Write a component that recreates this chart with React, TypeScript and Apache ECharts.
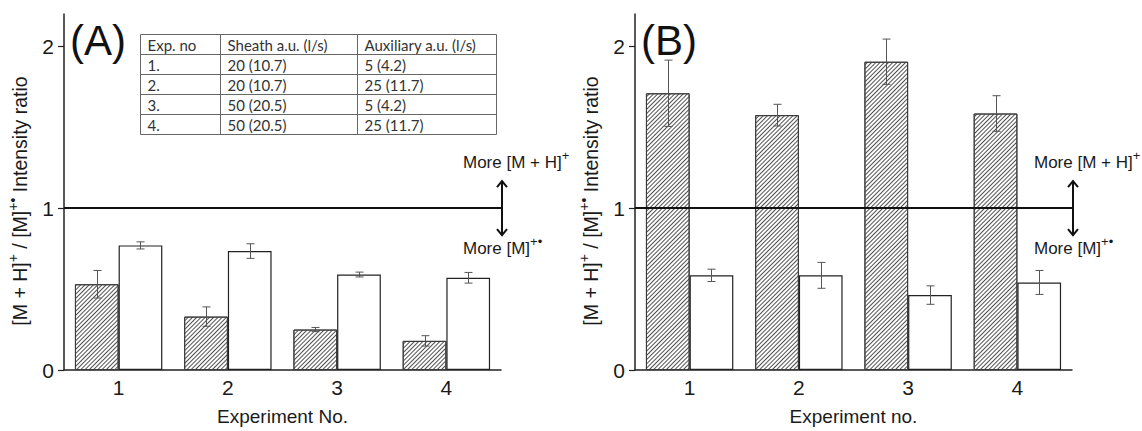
import React, { useEffect, useRef } from 'react';
import * as echarts from 'echarts';

const categories = ['1', '2', '3', '4'];
const yTicks = [0, 1, 2];
const panelAHatched = [0.53, 0.33, 0.25, 0.18];
const panelAHatchedErr = [0.085, 0.06, 0.013, 0.032];
const panelAOpen = [0.77, 0.735, 0.59, 0.57];
const panelAOpenErr = [0.022, 0.045, 0.015, 0.033];
const panelBHatched = [1.71, 1.575, 1.905, 1.585];
const panelBHatchedErr = [0.205, 0.067, 0.14, 0.11];
const panelBOpen = [0.585, 0.585, 0.463, 0.541];
const panelBOpenErr = [0.038, 0.08, 0.057, 0.074];
const tableHeader = ['Exp. no', 'Sheath a.u. (l/s)', 'Auxiliary a.u. (l/s)'];
const tableExp = ['1.', '2.', '3.', '4.'];
const tableSheath = ['20 (10.7)', '20 (10.7)', '50 (20.5)', '50 (20.5)'];
const tableAux = ['5 (4.2)', '25 (11.7)', '5 (4.2)', '25 (11.7)'];
const panelLabels = ['(A)', '(B)'];
const xNames = ['Experiment No.', 'Experiment no.'];

const FONT = '"Liberation Sans", Arial, sans-serif';
const TABLE_FONT = 'Lato, "Open Sans", sans-serif';
const GRID_TOP = 14;
const GRID_H = 356;
const GRID_W = 437;
const GRID_LEFTS = [64, 635];
const Y_MAX = 2.2;

const yPix = (v: number) => GRID_TOP + GRID_H * (1 - v / Y_MAX);

const renderErr = (params: any, api: any) => {
  const i = api.value(0);
  const v = api.value(1);
  const e = api.value(2);
  const side = api.value(3);
  const band = api.size([1, 0])[0];
  const base = api.coord([i, v]);
  const x = Math.round(base[0] + side * band * 0.2) + 0.5;
  const yT = api.coord([i, v + e])[1];
  const yB = api.coord([i, v - e])[1];
  const cap = 4;
  const style = { stroke: '#555', lineWidth: 1 };
  return {
    type: 'group',
    children: [
      { type: 'line', shape: { x1: x, y1: yT, x2: x, y2: yB }, style },
      { type: 'line', shape: { x1: x - cap, y1: yT, x2: x + cap, y2: yT }, style },
      { type: 'line', shape: { x1: x - cap, y1: yB, x2: x + cap, y2: yB }, style },
    ],
  };
};

const hatchDecal = {
  symbol: 'rect',
  symbolSize: 1,
  symbolKeepAspect: false,
  color: '#505050',
  backgroundColor: '#ffffff',
  dashArrayX: [1, 0],
  dashArrayY: [1, 1.7],
  rotation: -Math.PI / 4,
};

const richName = {
  n: { fontSize: 19.5, lineHeight: 28, fontFamily: FONT, color: '#1a1a1a' },
  s: { fontSize: 14, lineHeight: 13, verticalAlign: 'top', fontFamily: FONT, color: '#1a1a1a' },
  g: { width: 18, lineHeight: 28, fontSize: 19.5 },
};

const supRich = {
  n: { fontSize: 17, lineHeight: 26, fontFamily: FONT, fill: '#1a1a1a' },
  s: { fontSize: 13, lineHeight: 11, verticalAlign: 'top', fontFamily: FONT, fill: '#1a1a1a' },
};

function buildPanel(p: number, hatched: number[], hatchedErr: number[], open: number[], openErr: number[]) {
  const errData: number[][] = [];
  categories.forEach((_, i) => {
    errData.push([i, hatched[i], hatchedErr[i], -1]);
    errData.push([i, open[i], openErr[i], 1]);
  });
  return [
    {
      type: 'bar',
      xAxisIndex: p,
      yAxisIndex: p,
      data: hatched,
      barWidth: '40%',
      barGap: '0%',
      itemStyle: { color: '#ffffff', borderColor: '#3a3a3a', borderWidth: 1, decal: hatchDecal },
      silent: true,
    },
    {
      type: 'bar',
      xAxisIndex: p,
      yAxisIndex: p,
      data: open,
      barWidth: '40%',
      barGap: '0%',
      itemStyle: { color: '#ffffff', borderColor: '#222', borderWidth: 1.2 },
      silent: true,
      markLine: {
        silent: true,
        symbol: ['none', 'none'],
        label: { show: false },
        lineStyle: { color: '#111', width: 2, type: 'solid' },
        data: [{ yAxis: 1 }],
      },
    },
    {
      type: 'custom',
      xAxisIndex: p,
      yAxisIndex: p,
      data: errData,
      encode: { x: 0, y: 1 },
      renderItem: renderErr,
      z: 5,
      silent: true,
    },
  ];
}

function buildGraphics() {
  const g: any[] = [];
  const yLine = yPix(1);
  GRID_LEFTS.forEach((left, p) => {
    const ax = left + GRID_W + 1;
    const top = yLine - 27;
    const bot = yLine + 27;
    const st = { stroke: '#111', lineWidth: 2, fill: null };
    g.push({ type: 'line', shape: { x1: ax, y1: top, x2: ax, y2: bot }, style: st, z: 10 });
    g.push({ type: 'polyline', shape: { points: [[ax - 5, top + 6], [ax, top], [ax + 5, top + 6]] }, style: st, z: 10 });
    g.push({ type: 'polyline', shape: { points: [[ax - 5, bot - 6], [ax, bot], [ax + 5, bot - 6]] }, style: st, z: 10 });
    g.push({
      type: 'text',
      x: ax - 39,
      y: yLine - 46,
      style: { text: '{n|More [M + H]}{s|+}', rich: supRich, verticalAlign: 'middle', align: 'left' },
      z: 10,
    });
    g.push({
      type: 'text',
      x: ax - 39,
      y: yLine + 40,
      style: { text: '{n|More [M]}{s|+•}', rich: supRich, verticalAlign: 'middle', align: 'left' },
      z: 10,
    });
    g.push({
      type: 'text',
      x: left + 6,
      y: 40,
      style: { text: panelLabels[p], fontSize: 42, fontFamily: FONT, fill: '#111', verticalAlign: 'middle', align: 'left' },
      z: 10,
    });
  });

  // table in panel A
  const tTop = 34.5;
  const rowH = 20;
  const cols = [140.5, 220.5, 357.5, 496.5];
  const nRows = tableExp.length + 1;
  const tst = { stroke: '#666', lineWidth: 1, fill: null };
  g.push({ type: 'rect', shape: { x: cols[0], y: tTop, width: cols[3] - cols[0], height: rowH * nRows }, style: { stroke: '#666', lineWidth: 1, fill: '#fff' }, z: 8 });
  for (let r = 1; r < nRows; r++) {
    g.push({ type: 'line', shape: { x1: cols[0], y1: tTop + r * rowH, x2: cols[3], y2: tTop + r * rowH }, style: tst, z: 9 });
  }
  [cols[1], cols[2]].forEach((cx) => {
    g.push({ type: 'line', shape: { x1: cx, y1: tTop, x2: cx, y2: tTop + rowH * nRows }, style: tst, z: 9 });
  });
  const rows = [tableHeader, ...tableExp.map((e, i) => [e, tableSheath[i], tableAux[i]])];
  rows.forEach((row, r) => {
    row.forEach((txt, c) => {
      g.push({
        type: 'text',
        x: cols[c] + 7,
        y: tTop + r * rowH + rowH / 2 + 0.5,
        style: { text: txt, fontSize: 15, fontFamily: TABLE_FONT, fill: '#333', verticalAlign: 'middle', align: 'left' },
        z: 10,
      });
    });
  });
  return g;
}

export default function App() {
  const ref = useRef<HTMLDivElement>(null);
  useEffect(() => {
    if (!ref.current) return;
    const chart = echarts.init(ref.current, undefined, { renderer: 'svg' });
    const grids = GRID_LEFTS.map((left) => ({ left, top: GRID_TOP, width: GRID_W, height: GRID_H, containLabel: false }));
    const xAxes = GRID_LEFTS.map((_, p) => ({
      type: 'category',
      gridIndex: p,
      data: categories,
      axisLine: { show: true, lineStyle: { color: '#222', width: 1.5 } },
      axisTick: { show: false },
      axisLabel: { fontSize: 21, color: '#1a1a1a', margin: 7, fontFamily: FONT },
      splitLine: { show: false },
      name: xNames[p],
      nameLocation: 'middle',
      nameGap: 37,
      nameTextStyle: { fontSize: 19, color: '#1a1a1a', fontFamily: FONT },
    }));
    const yAxes = GRID_LEFTS.map((_, p) => ({
      type: 'value',
      gridIndex: p,
      min: 0,
      max: Y_MAX,
      interval: 1,
      axisLine: { show: true, lineStyle: { color: '#222', width: 1.5 } },
      axisTick: { show: true, length: 6, lineStyle: { color: '#222', width: 1.2 }, customValues: yTicks },
      axisLabel: { fontSize: 21, color: '#1a1a1a', margin: 10, fontFamily: FONT, customValues: yTicks },
      splitLine: { show: false },
      name: '{n|[M + H]}{s|+}{n| / [M]}{s|+•}{n| Intensity ratio}{g| }',
      nameLocation: 'middle',
      nameGap: 30,
      nameTextStyle: { rich: richName },
    }));
    chart.setOption({
      animation: false,
      backgroundColor: '#ffffff',
      grid: grids,
      xAxis: xAxes,
      yAxis: yAxes,
      series: [
        ...buildPanel(0, panelAHatched, panelAHatchedErr, panelAOpen, panelAOpenErr),
        ...buildPanel(1, panelBHatched, panelBHatchedErr, panelBOpen, panelBOpenErr),
      ],
      graphic: buildGraphics(),
    });
    return () => chart.dispose();
  }, []);
  return <div ref={ref} style={{ position: 'absolute', left: 0, top: 0, width: 1142, height: 431 }} />;
}
